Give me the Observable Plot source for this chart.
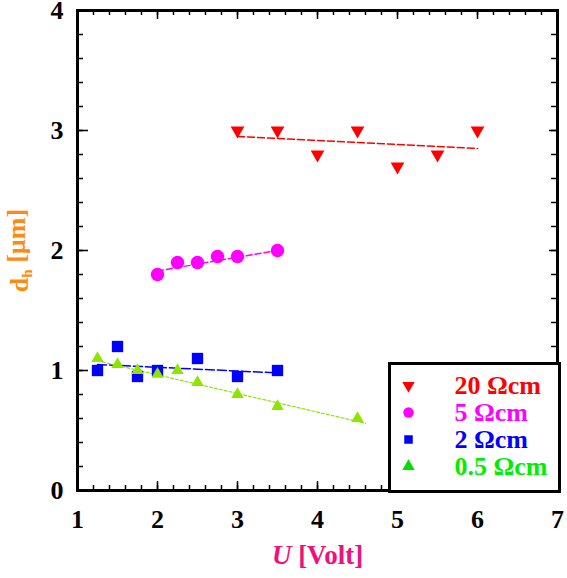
<!DOCTYPE html>
<html>
<head>
<meta charset="utf-8">
<script src="https://cdn.jsdelivr.net/npm/d3@7"></script>
<script src="https://cdn.jsdelivr.net/npm/@observablehq/plot@0.6"></script>
<style>
  html, body { margin: 0; padding: 0; background: #fff; }
  #wrap { position: relative; width: 567px; height: 578px; }
  #legend { position: absolute; left: 389px; top: 363px; line-height: 0; }
  svg text { font-family: "Liberation Serif", "Times New Roman", serif !important; }
</style>
</head>
<body>
<div id="wrap"><div id="chart"></div><div id="legend"></div></div>
<script>
// ---- data ----
const seriesNames = ["20 Ωcm", "5 Ωcm", "2 Ωcm", "0.5 Ωcm"];

const u20 = [3, 3.5, 4, 4.5, 5, 5.5, 6];
const d20 = [3.0, 3.0, 2.8, 3.0, 2.7, 2.8, 3.0];
const fit20U = [3, 6];
const fit20D = [2.95, 2.85];

const u5 = [2, 2.25, 2.5, 2.75, 3, 3.5];
const d5 = [1.8, 1.9, 1.9, 1.95, 1.95, 2.0];
const fit5U = [2, 3.5];
const fit5D = [1.83, 2.0];

const u2 = [1.25, 1.5, 1.75, 2, 2.5, 3, 3.5];
const d2 = [1.0, 1.2, 0.95, 1.0, 1.1, 0.95, 1.0];
const fit2U = [1.25, 3.5];
const fit2D = [1.05, 0.98];

const u05 = [1.25, 1.5, 1.75, 2, 2.25, 2.5, 3, 3.5, 4.5];
const d05 = [1.1, 1.05, 1.0, 0.97, 1.0, 0.9, 0.8, 0.7, 0.6];
const fit05U = [1.25, 4.6];
const fit05D = [1.08, 0.56];

const xTickLabels = [1, 2, 3, 4, 5, 6, 7];
const yTickLabels = [0, 1, 2, 3, 4];

// ---- styles ----
const colors = {
  "20 Ωcm": "#ff0000",
  "5 Ωcm": "#ff00ff",
  "2 Ωcm": "#0000ff",
  "0.5 Ωcm": "#8ee600"
};
const legendTextColors = ["#ff0000", "#ff00ff", "#0000ff", "#00ee00"];
const legendSymbolColors = ["#ff0000", "#ff00ff", "#0000ff", "#00dd00"];
const FONT = "Liberation Serif, Times New Roman, serif";

const toPts = (us, ds) => us.map((u, i) => ({u, d: ds[i]}));
const pts20 = toPts(u20, d20), pts5 = toPts(u5, d5), pts2 = toPts(u2, d2), pts05 = toPts(u05, d05);
const f20 = toPts(fit20U, fit20D), f5 = toPts(fit5U, fit5D), f2 = toPts(fit2U, fit2D), f05 = toPts(fit05U, fit05D);

const xDomain = [1, 7], yDomain = [0, 4];
const xMinor = d3.range(1, 7.001, 0.2).map(v => +v.toFixed(2));
const yMinor = d3.range(0, 4.001, 0.2).map(v => +v.toFixed(2));

const fmt = d => String(d);
const W = 567, H = 578, ML = 77, MR = 10, MT = 10, MB = 88;
const FW = W - ML - MR, FH = H - MT - MB; // frame size in px
const pxX = (xDomain[1] - xDomain[0]) / FW, pxY = (yDomain[1] - yDomain[0]) / FH;
const tickStyle = {stroke: "#000", strokeWidth: 1.5, strokeLinecap: "butt"};

// inward tick segments on all four sides (lengths are pixels converted to data units)
const xTickSeg = (vals, len) => [
  ...vals.map(v => ({x1: v, x2: v, y1: yDomain[0], y2: yDomain[0] + len * pxY})),
  ...vals.map(v => ({x1: v, x2: v, y1: yDomain[1], y2: yDomain[1] - len * pxY}))
];
const yTickSeg = (vals, lenL, lenR) => [
  ...vals.map(v => ({y1: v, y2: v, x1: xDomain[0], x2: xDomain[0] + lenL * pxX})),
  ...vals.map(v => ({y1: v, y2: v, x1: xDomain[1], x2: xDomain[1] - lenR * pxX}))
];
const ticks = [
  ...xTickSeg(xMinor, 5), ...xTickSeg(xTickLabels, 9),
  ...yTickSeg(yMinor, 6, 6), ...yTickSeg(yTickLabels, 11, 8)
];

const plot = Plot.plot({
  width: W,
  height: H,
  marginLeft: ML,
  marginRight: MR,
  marginTop: MT,
  marginBottom: MB,
  style: {fontFamily: FONT, background: "#fff", overflow: "visible"},
  x: {domain: xDomain, axis: null},
  y: {domain: yDomain, axis: null},
  marks: [
    Plot.frame({stroke: "#000", strokeWidth: 3, fill: "none"}),
    Plot.ruleX(ticks.filter(d => d.x1 === d.x2), {x: "x1", y1: "y1", y2: "y2", ...tickStyle}),
    Plot.ruleY(ticks.filter(d => d.y1 === d.y2), {y: "y1", x1: "x1", x2: "x2", ...tickStyle}),
    // tick labels
    Plot.axisX(xTickLabels, {anchor: "bottom", tickSize: 0, tickPadding: 19, label: null, tickFormat: fmt,
      fontSize: 26, fontWeight: "bold", fontFamily: FONT, fill: "#000"}),
    Plot.axisY(yTickLabels, {anchor: "left", tickSize: 0, tickPadding: 14, label: null, tickFormat: fmt,
      fontSize: 26, fontWeight: "bold", fontFamily: FONT, fill: "#000"}),
    // fit lines
    Plot.line(f20, {x: "u", y: "d", stroke: colors["20 Ωcm"], strokeWidth: 1.5, strokeDasharray: "7,3"}),
    Plot.line(f5, {x: "u", y: "d", stroke: colors["5 Ωcm"], strokeWidth: 1.5, strokeDasharray: "6,3"}),
    Plot.line(f2, {x: "u", y: "d", stroke: colors["2 Ωcm"], strokeWidth: 1.5, strokeDasharray: "9,3"}),
    Plot.line(f05, {x: "u", y: "d", stroke: colors["0.5 Ωcm"], strokeWidth: 1.2, strokeDasharray: "3,2"}),
    // data points
    Plot.dot(pts20, {x: "u", y: "d", symbol: "triangle", rotate: 180, r: 5.1, fill: colors["20 Ωcm"]}),
    Plot.dot(pts5, {x: "u", y: "d", symbol: "circle", r: 6.7, fill: colors["5 Ωcm"]}),
    Plot.dot(pts2, {x: "u", y: "d", symbol: "square", r: 6.4, fill: colors["2 Ωcm"]}),
    Plot.dot(pts05, {x: "u", y: "d", symbol: "triangle", r: 4.6, fill: colors["0.5 Ωcm"]}),
    // axis titles
    Plot.text(["U [Volt]"], {frameAnchor: "bottom", dy: 73, text: d => d, textAnchor: "middle", fontSize: 27,
      fontWeight: "bold", fontFamily: FONT, fill: "#f0107a"}),
    Plot.text(["dh [µm]"], {frameAnchor: "left", dx: -58, rotate: -90, text: d => d, textAnchor: "middle",
      fontSize: 26, fontWeight: "bold", fontFamily: FONT, fill: "#ff8a10"})
  ]
});
document.getElementById("chart").append(plot);

// rich text for axis titles
const svg = d3.select(plot);
const byText = t => svg.selectAll("text").filter(function () { return this.textContent === t; });
const xl = byText("U [Volt]");
xl.attr("text-anchor", "middle").text(null);
xl.append("tspan").attr("font-style", "italic").text("U");
xl.append("tspan").text(" [Volt]");
const yl = byText("dh [µm]");
yl.attr("text-anchor", "middle").text(null);
yl.append("tspan").text("d");
yl.append("tspan").attr("font-size", 15).attr("dy", "0.3em").text("h");
yl.append("tspan").attr("dy", "-0.3em").text(" [µm]");

// legend box
const legendRows = seriesNames.map((name, i) => ({name, i}));
const legendSymbols = ["triangle", "circle", "square", "triangle"];
const legendRot = [180, 0, 0, 0];
const legendR = [4.6, 5.2, 4.8, 4.6];
const legend = Plot.plot({
  width: 170,
  height: 128,
  margin: 0,
  style: {fontFamily: FONT, background: "#fff", overflow: "visible"},
  y: {type: "point", domain: seriesNames, axis: null, padding: 0, insetTop: 22, insetBottom: 25},
  marks: [
    Plot.frame({stroke: "#000", strokeWidth: 3, fill: "none"}),
    ...legendRows.map(d => Plot.dot([d], {y: "name", frameAnchor: "left", dx: 19,
      symbol: legendSymbols[d.i], rotate: legendRot[d.i], r: legendR[d.i], fill: legendSymbolColors[d.i]})),
    Plot.text(legendRows, {y: "name", frameAnchor: "left", dx: 65, text: "name", textAnchor: "start",
      fontSize: 26, fontWeight: "bold", fontFamily: FONT, fill: d => legendTextColors[d.i]})
  ]
});
document.getElementById("legend").append(legend);
</script>
</body>
</html>
